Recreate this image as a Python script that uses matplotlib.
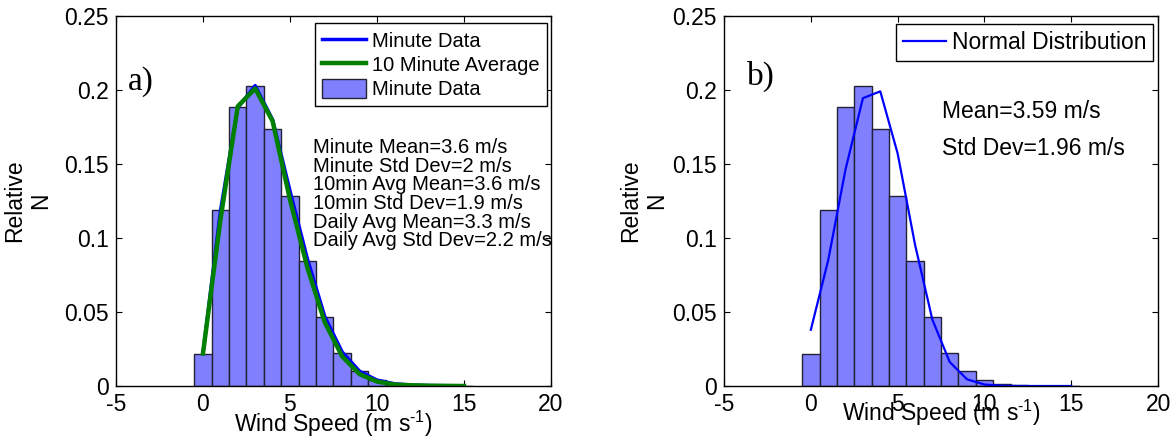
import matplotlib.pyplot as plt

plt.rcParams['font.family'] = ['Liberation Sans', 'DejaVu Sans']
plt.rcParams['mathtext.default'] = 'regular'
plt.rcParams['axes.unicode_minus'] = False

# bin centres of the histogram (m/s)
speed_bins = [0, 1, 2, 3, 4, 5, 6, 7, 8, 9, 10, 11, 12, 13, 14, 15]
# relative frequency of the minute data (bars)
minute_freq = [0.0219, 0.1188, 0.1887, 0.2027, 0.1734, 0.1285, 0.0848, 0.0465,
               0.0226, 0.0101, 0.0043, 0.0015, 0.0005, 0.0002, 0.0001, 0.0001]
# curves in panel a)
minute_line = [0.022, 0.118, 0.188, 0.203, 0.180, 0.132, 0.086, 0.047,
               0.023, 0.010, 0.004, 0.0015, 0.0006, 0.0003, 0.0002, 0.0001]
avg10_line = [0.022, 0.112, 0.189, 0.201, 0.179, 0.126, 0.080, 0.043,
              0.020, 0.008, 0.003, 0.001, 0.0005, 0.0002, 0.0001, 0.0]
# fitted normal curve in panel b)
normal_line = [0.0380, 0.0850, 0.1465, 0.1945, 0.1991, 0.1571, 0.0956, 0.0448,
               0.0162, 0.0045, 0.0010, 0.0002, 0.0, 0.0, 0.0, 0.0]

stats_a = ["Minute Mean=3.6 m/s", "Minute Std Dev=2 m/s", "10min Avg Mean=3.6 m/s",
           "10min Std Dev=1.9 m/s", "Daily Avg Mean=3.3 m/s", "Daily Avg Std Dev=2.2 m/s"]
stats_b = ["Mean=3.59 m/s", "Std Dev=1.96 m/s"]

xticks = [-5, 0, 5, 10, 15, 20]
yticks = [0, 0.05, 0.1, 0.15, 0.2, 0.25]
ytick_labels = ["0", "0.05", "0.1", "0.15", "0.2", "0.25"]
xlabel = "Wind Speed (m s$^{\u2010 1}$)"

bar_color = "#8080ff"
fs = 16.5

fig = plt.figure(figsize=(11.75, 4.38), dpi=100)
ax1 = fig.add_axes([0.0987, 0.1187, 0.3702, 0.8447])
ax2 = fig.add_axes([0.6162, 0.1187, 0.3694, 0.8447])

for ax in (ax1, ax2):
    ax.set_xlim(-5, 20)
    ax.set_ylim(0, 0.25)
    ax.set_xticks(xticks)
    ax.set_yticks(yticks)
    ax.set_yticklabels(ytick_labels)
    ax.tick_params(direction="in", length=4, width=0.8, top=True, right=True,
                   labelsize=fs, pad=5)
    ax.set_axisbelow(True)
    for sp in ax.spines.values():
        sp.set_linewidth(1.0)
    ax.set_ylabel("Relative\nN", fontsize=fs, linespacing=1.15)

# a) panel
bars = ax1.bar(speed_bins, minute_freq, width=1.0, color=bar_color,
               edgecolor="#222233", linewidth=1.0)
l1, = ax1.plot(speed_bins, minute_line, color="#0000ff", lw=2.5)
l2, = ax1.plot(speed_bins, avg10_line, color="#008000", lw=3.2)
ax1.legend([l1, l2, bars], ["Minute Data", "10 Minute Average", "Minute Data"],
           loc="upper right", bbox_to_anchor=(0.99, 0.98), fontsize=14.5,
           frameon=True, fancybox=False, edgecolor="black", framealpha=1,
           handlelength=2.2, handleheight=1.05, handletextpad=0.3,
           labelspacing=0.2, borderpad=0.35, borderaxespad=0)
ax1.get_legend().get_frame().set_linewidth(1.0)
for i, s in enumerate(stats_a):
    ax1.text(6.3, 0.1572 - i * 0.01254, s, fontsize=14.5, va="baseline")
ax1.text(-4.33, 0.200, "a)", fontsize=24, family="Liberation Serif", va="baseline")
ax1.set_xlabel(xlabel, fontsize=fs, labelpad=-5)
ax1.yaxis.labelpad = 9

# b) panel
ax2.bar(speed_bins, minute_freq, width=1.0, color=bar_color,
        edgecolor="#222233", linewidth=1.0)
l3, = ax2.plot(speed_bins, normal_line, color="#0000ff", lw=1.6)
ax2.legend([l3], ["Normal Distribution"], loc="upper right",
           bbox_to_anchor=(0.9885, 0.978), fontsize=fs, frameon=True,
           fancybox=False, edgecolor="black", framealpha=1,
           handlelength=1.9, handletextpad=0.24, borderpad=0.3,
           borderaxespad=0)
ax2.get_legend().get_frame().set_linewidth(1.0)
for i, s in enumerate(stats_b):
    ax2.text(7.55, 0.1808 - i * 0.0248, s, fontsize=fs, va="baseline")
ax2.text(-3.69, 0.2033, "b)", fontsize=24, family="Liberation Serif", va="baseline")
ax2.set_xlabel(xlabel, fontsize=fs, labelpad=-13)
ax2.yaxis.labelpad = 3

fig.savefig("out.png", dpi=100)
